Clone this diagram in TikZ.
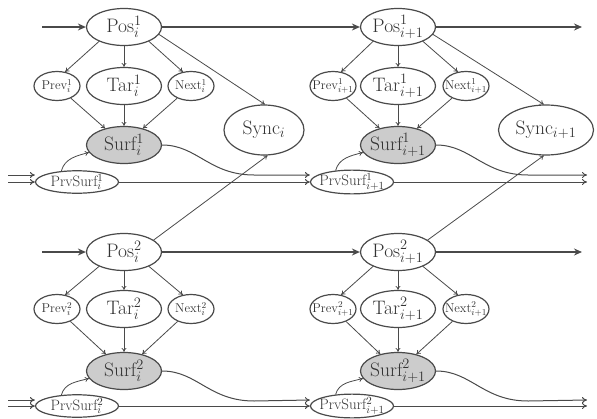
\documentclass[tikz,border=0pt]{standalone}
\usetikzlibrary{shapes.geometric,arrows.meta,calc}
\definecolor{lc}{HTML}{4A4A4A}
\definecolor{tc}{HTML}{333333}
\newcommand{\zb}[1]{\makebox[0pt]{#1}}
\tikzset{
  nd/.style={ellipse, draw=lc, line width=1.2pt, inner sep=0pt, text=tc},
  big/.style={nd, minimum width=75pt, minimum height=37pt, font=\fontsize{19.5}{22}\selectfont},
  surf/.style={big, fill=gray!40},
  small/.style={nd, minimum width=46pt, minimum height=29pt, font=\fontsize{12.8}{14}\selectfont},
  prv/.style={nd, minimum width=83pt, minimum height=22pt, font=\fontsize{15}{17}\selectfont},
  syn/.style={nd, minimum width=80pt, minimum height=50pt, font=\fontsize{19.5}{22}\selectfont},
  thin/.style={draw=lc, line width=0.8pt, -{To[length=4pt,width=5pt]}},
  thk/.style={draw=lc, line width=1.8pt, -{Stealth[length=8pt,width=7pt]}},
  dbl/.style={draw=lc, line width=1pt, -{To[length=5pt,width=6pt]}}
}
\begin{document}
\begin{tikzpicture}[x=1pt,y=-1pt]
\useasboundingbox (0,0) rectangle (597,418);
% ---------- layer 1 ----------
\node[big]  (pa1) at (124,27)  {\zb{Pos$^1_i$}};
\node[big]  (pb1) at (398,27)  {\zb{Pos$^1_{i+1}$}};
\node[small](va1) at (57,86)   {\zb{Prev$^1_i$}};
\node[big]  (ta1) at (124,86)  {\zb{Tar$^1_i$}};
\node[small](na1) at (191,86)  {\zb{Next$^1_i$}};
\node[small](vb1) at (333,86)  {\zb{Prev$^1_{i+1}$}};
\node[big]  (tb1) at (398,86)  {\zb{Tar$^1_{i+1}$}};
\node[small](nb1) at (466,86)  {\zb{Next$^1_{i+1}$}};
\node[surf] (sa1) at (124,145) {\zb{Surf$^1_i$}};
\node[surf] (sb1) at (398,145) {\zb{Surf$^1_{i+1}$}};
\node[prv]  (qa1) at (77,182)  {\zb{PrvSurf$^1_i$}};
\node[prv]  (qb1) at (352,182) {\zb{PrvSurf$^1_{i+1}$}};
\node[syn]  (ya)  at (264,130) {\zb{Sync$_i$}};
\node[syn, minimum width=95pt] (yb) at (546,130) {\zb{Sync$_{i+1}$}};
% ---------- layer 2 ----------
\node[big]  (pa2) at (124,252) {\zb{Pos$^2_i$}};
\node[big]  (pb2) at (398,252) {\zb{Pos$^2_{i+1}$}};
\node[small](va2) at (57,309)  {\zb{Prev$^2_i$}};
\node[big]  (ta2) at (124,309) {\zb{Tar$^2_i$}};
\node[small](na2) at (191,309) {\zb{Next$^2_i$}};
\node[small](vb2) at (333,309) {\zb{Prev$^2_{i+1}$}};
\node[big]  (tb2) at (398,309) {\zb{Tar$^2_{i+1}$}};
\node[small](nb2) at (466,309) {\zb{Next$^2_{i+1}$}};
\node[surf] (sa2) at (124,371) {\zb{Surf$^2_i$}};
\node[surf] (sb2) at (398,371) {\zb{Surf$^2_{i+1}$}};
\node[prv]  (qa2) at (77,406)  {\zb{PrvSurf$^2_i$}};
\node[prv]  (qb2) at (352,406) {\zb{PrvSurf$^2_{i+1}$}};
% ---------- free ends ----------
\coordinate (ia1) at (42,27);   \coordinate (oa1) at (582,27);
\coordinate (ia2) at (42,252);  \coordinate (oa2) at (582,252);
\coordinate (lu1) at (8,175);   \coordinate (ll1) at (8,182);
\coordinate (lu2) at (8,400);   \coordinate (ll2) at (8,406);
\coordinate (ru1) at (587,175); \coordinate (rl1) at (587,182);
\coordinate (ru2) at (587,400); \coordinate (rl2) at (587,406);
% ---------- thick position chain ----------
\foreach \k in {1,2}{
  \draw[thk] (ia\k) -- (pa\k.west);
  \draw[thk] (pa\k) -- (pb\k);
  \draw[thk] (pb\k.east) -- (oa\k);
}
% ---------- fan-out / fan-in ----------
\foreach \c in {a,b}{
  \foreach \k in {1,2}{
    \draw[thin] (p\c\k.210) -- (v\c\k.60);
    \draw[thin] (p\c\k) -- (t\c\k);
    \draw[thin] (p\c\k.330) -- (n\c\k.120);
    \draw[thin] (v\c\k) -- (s\c\k);
    \draw[thin] (t\c\k) -- (s\c\k);
    \draw[thin] (n\c\k) -- (s\c\k);
    \draw[thin] (q\c\k.145) to[out=75,in=195] (s\c\k.192);
  }
}
\draw[thin] (pa1.348) -- (ya.88);
\draw[thin] (pa2.22) -- (ya.278);
\draw[thin] (pb1.348) -- (yb.95);
\draw[thin] (pb2.22) -- (yb.265);
% ---------- surface lines ----------
\foreach \k/\o in {1/7,2/6}{
  \draw[dbl] (lu\k) -- (lu\k -| qa\k.west);
  \draw[dbl] (ll\k) -- (qa\k.west);
  \draw[dbl] (sa\k.east) .. controls +(35,0) and +(-45,0) .. ($(sa\k.east)+(92,30)$) -- ($(qb\k.west)+(0,-\o)$);
  \draw[dbl] (qa\k.east) -- (qb\k.west);
  \draw[dbl] (sb\k.east) .. controls +(35,0) and +(-45,0) .. ($(sb\k.east)+(92,30)$) -- (ru\k);
  \draw[dbl] (qb\k.east) -- (rl\k);
}
\end{tikzpicture}
\end{document}
